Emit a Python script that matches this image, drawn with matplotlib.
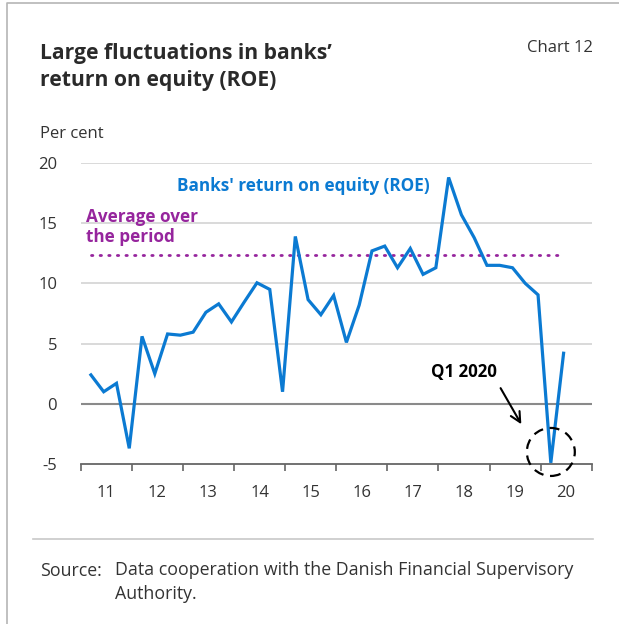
# Banks' return on equity chart (quarterly ROE with period average)

import numpy as np
import matplotlib.pyplot as plt
from matplotlib.patches import Ellipse

plt.rcParams['font.family'] = ['Open Sans', 'DejaVu Sans']

# quarterly data, 2011 Q1 - 2020 Q2
start_year = 2011
roe = [2.4, 1.0, 1.7, -3.7,
       5.6, 2.5, 5.8, 5.7,
       5.95, 7.6, 8.3, 6.8,
       8.45, 10.05, 9.5, 1.0,
       13.9, 8.65, 7.4, 9.0,
       5.1, 8.2, 12.7, 13.1,
       11.3, 12.9, 10.75, 11.3,
       18.8, 15.7, 13.8, 11.5,
       11.5, 11.3, 10.0, 9.05,
       -4.9, 4.2]
avg_roe = 12.4
year_labels = ['11', '12', '13', '14', '15', '16', '17', '18', '19', '20']

blue = '#0b7ad2'
purple = '#96259d'
txt = '#333333'

# quarter -> position on the year axis
x = start_year + np.arange(len(roe)) / 4 + 0.2

fig = plt.figure(figsize=(6.19, 6.24), dpi=100)
ax = fig.add_axes([80.7 / 619, 160 / 624, 511 / 619, 301 / 624])

for v in [5, 10, 15, 20]:
    ax.axhline(v, color='#d3d3d3', lw=1.2, zorder=1)
ax.axhline(0, color='#8a8a8a', lw=1.5, zorder=1)

ax.plot(x, roe, color=blue, lw=2.3, zorder=3, solid_joinstyle='miter')
ax.plot([x[0], x[-1] - 0.1], [avg_roe, avg_roe], color=purple, lw=2,
        ls=(0, (0.5, 2.6)), dash_capstyle='round', zorder=2)

ax.set_xlim(2011, 2021)
ax.set_ylim(-5, 20)
for s in ['top', 'right', 'left']:
    ax.spines[s].set_visible(False)
ax.spines['bottom'].set_color('#666666')
ax.spines['bottom'].set_linewidth(1.3)

ax.set_xticks(np.arange(2011, 2022))
ax.set_xticklabels([])
ax.set_xticks(np.arange(2011, 2021) + 0.5, minor=True)
ax.set_xticklabels(year_labels, minor=True)
ax.tick_params(axis='x', which='major', length=5, width=1.2, color='#666666', direction='out')
ax.tick_params(axis='x', which='minor', length=0, pad=15, labelsize=12, labelcolor=txt)
ax.set_yticks([-5, 0, 5, 10, 15, 20])
ax.set_yticklabels(['-5', '0', '5', '10', '15', '20'])
ax.tick_params(axis='y', length=0, pad=17, labelsize=12, labelcolor=txt)

# annotations
ax.text(2012.88, 18.1, "Banks' return on equity (ROE)", color=blue, fontsize=12.3,
        fontweight='bold', ha='left', va='center')
ax.text(2011.1, 14.68, "Average over\nthe period", color=purple, fontsize=12.3,
        fontweight='bold', ha='left', va='center', linespacing=1.18)
ax.text(2018.5, 2.6, "Q1 2020", color='black', fontsize=12.2, fontweight='bold',
        ha='center', va='center')
ax.annotate('', xy=(2019.65, -1.9), xytext=(2019.19, 1.5),
            arrowprops=dict(arrowstyle='->', color='black', lw=1.5, mutation_scale=18))
ax.add_patch(Ellipse((x[-2], -4.0), 48 / 51.1, 48 / 12.04, fill=False,
                     ls=(0, (4.5, 3)), lw=1.6, color='black', zorder=4, clip_on=False))

# header, frame and source
fig.text(40 / 619, 1 - 67 / 624, "Large fluctuations in banks\u2019\nreturn on equity (ROE)",
         fontsize=15.2, fontweight='bold', color='#2a2a2a', ha='left', va='center',
         linespacing=1.38)
fig.text(593 / 619, 1 - 48 / 624, "Chart 12", fontsize=12, color=txt, ha='right', va='center')
fig.text(40 / 619, 1 - 134 / 624, "Per cent", fontsize=12, color=txt, ha='left', va='center')
fig.text(40 / 619, 1 - 571 / 624, "Source:", fontsize=12.8, color=txt, ha='left', va='center')
fig.text(115 / 619, 1 - 582 / 624, "Data cooperation with the Danish Financial Supervisory\nAuthority.",
         fontsize=12.8, color=txt, ha='left', va='center', linespacing=1.4)

fig.add_artist(plt.Line2D([33 / 619, 593 / 619], [1 - 539 / 624, 1 - 539 / 624],
                          color='#c8c8c8', lw=1.2))
fig.add_artist(plt.Line2D([7 / 619, 7 / 619, 1], [0, 1 - 3 / 624, 1 - 3 / 624],
                          color='#b5b5b5', lw=1.2))

fig.savefig('out.png', dpi=100)
